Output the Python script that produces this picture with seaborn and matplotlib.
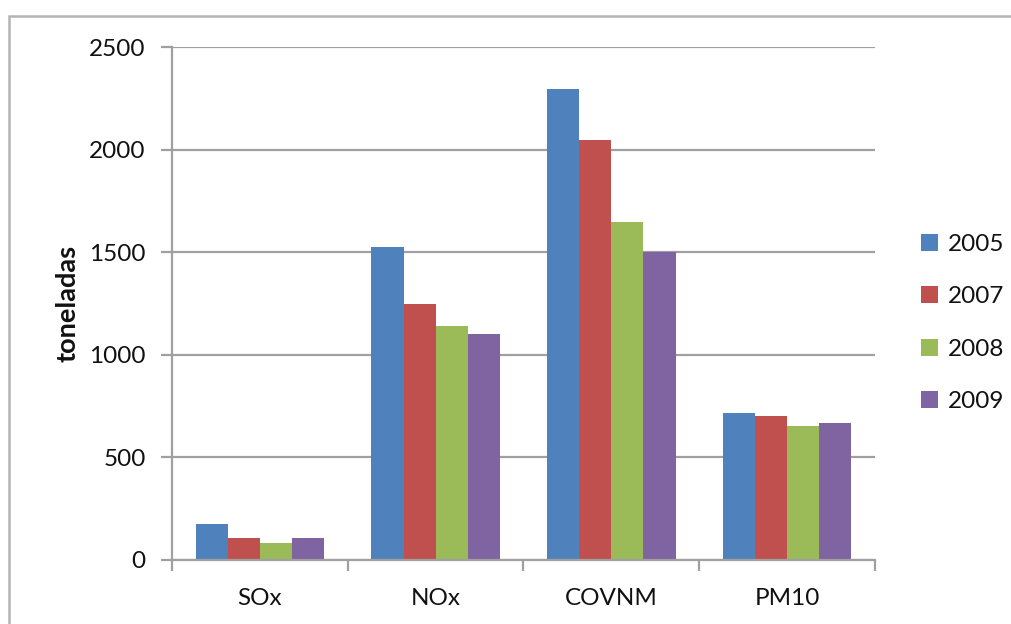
import matplotlib
matplotlib.use("Agg")
import matplotlib.pyplot as plt
import numpy as np
import pandas as pd
import seaborn as sns
from matplotlib.patches import Rectangle, Patch

# Emissões por poluente (toneladas)
poluentes = ["SOx", "NOx", "COVNM", "PM10"]
anos = ["2005", "2007", "2008", "2009"]
v2005 = [175, 1525, 2295, 715]
v2007 = [107, 1248, 2045, 700]
v2008 = [84, 1138, 1645, 653]
v2009 = [107, 1100, 1500, 666]
cores = ["#4F81BD", "#C0504D", "#9BBB59", "#8064A2"]
yticks = [0, 500, 1000, 1500, 2000, 2500]

sns.set_theme(style="white")
plt.rcParams["font.family"] = ["Lato", "DejaVu Sans"]

series = [v2005, v2007, v2008, v2009]
df = pd.DataFrame({
    "poluente": np.tile(poluentes, len(anos)),
    "ano": np.repeat(anos, len(poluentes)),
    "toneladas": np.concatenate(series),
})

W, H = 1012, 624
fig = plt.figure(figsize=(W / 100, H / 100), dpi=100)
fig.patch.set_facecolor("white")

# outer chart frame
fig.patches.append(Rectangle((9 / W, -0.1), 1.2, 1 - 16 / H + 0.1,
                             transform=fig.transFigure, fill=False,
                             edgecolor="#b4b4b4", linewidth=1.8, zorder=0))

ax = fig.add_axes([172 / W, (H - 560) / H, 703 / W, 513 / H])
sns.barplot(data=df, x="poluente", y="toneladas", hue="ano",
            order=poluentes, hue_order=anos, palette=cores,
            saturation=1, width=0.73, linewidth=0, ax=ax, legend=False)

ax.set_ylim(0, 2500)
ax.set_xlim(-0.5, len(poluentes) - 0.5)
ax.set_yticks(yticks)
ax.set_yticklabels([str(t) for t in yticks])
ax.set_axisbelow(True)
ax.yaxis.grid(True, color="#a0a0a0", linewidth=1.6)
ax.xaxis.grid(False)

for s in ["top", "right"]:
    ax.spines[s].set_visible(False)
for s in ["left", "bottom"]:
    ax.spines[s].set_color("#a0a0a0")
    ax.spines[s].set_linewidth(1.6)

# category boundary ticks on x
ax.set_xticks(np.arange(-0.5, len(poluentes), 1.0), minor=True)
ax.tick_params(axis="x", which="minor", length=8, width=1.6,
               color="#a0a0a0", direction="out", bottom=True)
ax.tick_params(axis="x", which="major", length=0, pad=20,
               labelsize=17.5, labelcolor="#111111")
ax.tick_params(axis="y", length=8, width=1.6, color="#a0a0a0",
               direction="out", left=True, pad=11,
               labelsize=17.5, labelcolor="#111111")

ax.set_xlabel("")
ax.set_ylabel("toneladas", fontsize=19.5, fontweight="bold",
              color="#111111", labelpad=7)

handles = [Patch(facecolor=c, edgecolor="none") for c in cores]
leg = fig.legend(handles, anos, loc="center left",
                 bbox_to_anchor=(899 / W, 1 - 323 / H), frameon=False,
                 fontsize=17.5, handlelength=0.7, handleheight=0.7,
                 handletextpad=0.4, labelspacing=1.28)
for t in leg.get_texts():
    t.set_color("#111111")

fig.savefig("out.png", dpi=100, facecolor="white")
